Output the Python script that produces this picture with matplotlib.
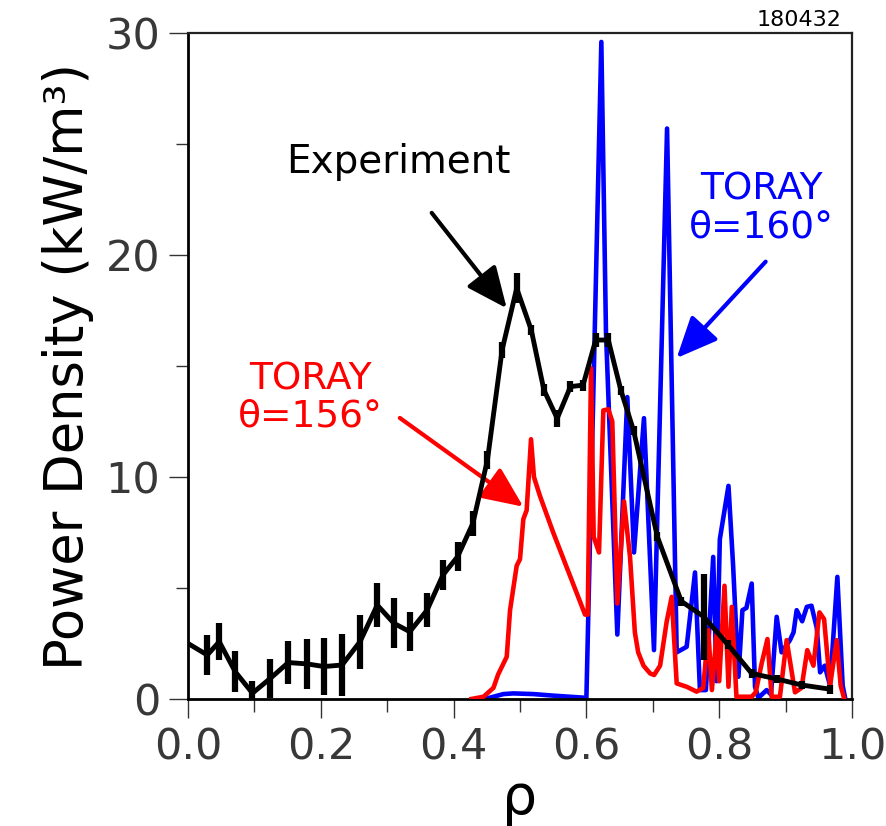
import matplotlib
matplotlib.use("Agg")
import matplotlib.pyplot as plt
from matplotlib.ticker import MultipleLocator

# Experiment (black, with error bars)
exp_rho = [0.0, 0.029, 0.047, 0.071, 0.097, 0.124, 0.151, 0.179, 0.205, 0.232,
           0.259, 0.285, 0.310, 0.334, 0.360, 0.384, 0.406, 0.429, 0.451, 0.473,
           0.495, 0.517, 0.536, 0.556, 0.576, 0.595, 0.614, 0.633, 0.652, 0.671,
           0.707, 0.743, 0.777, 0.813, 0.849, 0.887, 0.924, 0.967]
exp_val = [2.5, 1.98, 2.58, 1.23, 0.26, 0.93, 1.64, 1.58, 1.46, 1.53,
           2.58, 4.23, 3.41, 3.03, 4.0, 5.59, 6.41, 7.91, 10.77, 15.72,
           18.5, 16.62, 13.92, 12.64, 14.07, 14.14, 16.17, 16.17, 13.9, 12.1,
           7.3, 4.4, 3.7, 2.45, 1.15, 0.9, 0.63, 0.44]
exp_err = [0.0, 0.92, 0.82, 0.92, 0.53, 0.88, 0.98, 1.12, 1.27, 1.4,
           1.22, 0.99, 1.13, 0.88, 0.78, 0.67, 0.64, 0.56, 0.41, 0.34,
           0.68, 0.23, 0.25, 0.38, 0.25, 0.25, 0.3, 0.3, 0.2, 0.2,
           0.2, 0.2, 1.95, 0.2, 0.2, 0.2, 0.2, 0.2]

# TORAY theta=160 (blue)
t160_rho = [0.447, 0.46, 0.475, 0.49, 0.52, 0.55, 0.600, 0.6225, 0.6295, 0.6466,
            0.6616, 0.6717, 0.6867, 0.7018, 0.7215, 0.736, 0.751, 0.7636, 0.771, 0.78,
            0.791, 0.796, 0.801, 0.814, 0.821, 0.829, 0.835, 0.841, 0.849, 0.854,
            0.859, 0.8715, 0.878, 0.8866, 0.894, 0.9066, 0.912, 0.9167, 0.925, 0.932,
            0.939, 0.947, 0.952, 0.959, 0.967, 0.978, 0.986, 0.99]
t160_val = [0.0, 0.1, 0.22, 0.25, 0.22, 0.15, 0.05, 29.6, 16.5, 2.9,
            13.6, 6.6, 12.65, 2.2, 25.7, 2.1, 2.35, 5.7, 0.4, 0.4,
            6.4, 0.8, 7.2, 9.6, 6.0, 1.0, 4.0, 4.1, 5.2, 0.55,
            0.05, 0.4, 0.2, 3.7, 2.1, 2.65, 3.0, 4.0, 3.5, 4.15,
            4.2, 3.2, 1.2, 1.5, 0.6, 5.5, 0.6, 0.0]

# TORAY theta=156 (red)
t156_rho = [0.427, 0.445, 0.46, 0.467, 0.48, 0.485, 0.495, 0.5, 0.505, 0.51,
            0.5166, 0.521, 0.53, 0.55, 0.598, 0.602, 0.607, 0.611, 0.619, 0.6255,
            0.633, 0.639, 0.6466, 0.6566, 0.6657, 0.673, 0.678, 0.686, 0.696, 0.702,
            0.711, 0.721, 0.7285, 0.736, 0.751, 0.766, 0.776, 0.7836, 0.789, 0.796,
            0.8, 0.808, 0.814, 0.819, 0.826, 0.849, 0.855, 0.864, 0.8727, 0.879,
            0.8915, 0.9016, 0.9142, 0.924, 0.9327, 0.942, 0.951, 0.958, 0.967, 0.977,
            0.983, 0.988]
t156_val = [0.0, 0.1, 0.5, 1.1, 1.9, 4.0, 6.0, 6.3, 8.1, 8.5,
            11.7, 10.0, 9.15, 7.5, 3.8, 3.8, 14.9, 7.3, 6.6, 13.0,
            13.05, 12.5, 4.3, 8.9, 6.4, 3.0, 2.1, 1.5, 1.15, 1.08,
            1.5, 3.5, 4.6, 0.7, 0.55, 0.33, 0.5, 3.1, 0.4, 2.9,
            0.8, 5.1, 0.55, 4.15, 0.1, 0.1, 0.3, 1.6, 2.7, 0.1,
            0.1, 2.65, 0.3, 0.5, 2.2, 1.5, 3.9, 3.6, 0.6, 2.65,
            0.6, 0.05]

plt.rcParams['font.family'] = ['DejaVu Sans']

fig = plt.figure(figsize=(8.87, 8.26), dpi=100)
ax = fig.add_axes([0.212, 0.1538, 0.7485, 0.8062])

ax.plot(t160_rho, t160_val, color='#0000ff', lw=3.3, zorder=2)
ax.plot(t156_rho, t156_val, color='#ff0000', lw=3.3, zorder=3)
ax.errorbar(exp_rho, exp_val, yerr=exp_err, fmt='-', color='black', lw=3.5,
            elinewidth=4.5, capsize=0, zorder=4)

ax.set_xlim(0, 1.0)
ax.set_ylim(0, 30)
ax.xaxis.set_major_locator(MultipleLocator(0.2))
ax.xaxis.set_minor_locator(MultipleLocator(0.1))
ax.yaxis.set_major_locator(MultipleLocator(10))
ax.yaxis.set_minor_locator(MultipleLocator(5))
ax.xaxis.set_major_formatter(lambda v, pos: f'{v:.1f}')
ax.tick_params(which='major', direction='out', length=14, width=1, color='#333333',
               labelsize=31, labelcolor='#383838', pad=6)
ax.tick_params(which='minor', direction='out', length=9, width=1, color='#333333')
ax.tick_params(top=False, right=False, which='both')

for side in ['left', 'bottom']:
    ax.spines[side].set_linewidth(2)
for side in ['top', 'right']:
    ax.spines[side].set_linewidth(1.6)
    ax.spines[side].set_color('#222222')

ax.set_ylabel('Power Density (kW/m³)', fontsize=38, labelpad=8)
ax.set_xlabel('ρ', fontsize=40, labelpad=2)

# annotations
arrow = '-|>,head_length=0.9,head_width=0.4'
ax.text(0.317, 24.2, 'Experiment', fontsize=28, ha='center', va='center')
ax.annotate('', xy=(0.48, 17.6), xytext=(0.367, 21.9),
            arrowprops=dict(arrowstyle=arrow, mutation_scale=28, lw=3,
                            color='black', shrinkA=0, shrinkB=0))

ax.text(0.184, 13.55, 'TORAY\nθ=156°', fontsize=27, color='#ff0000',
        ha='center', va='center', linespacing=1.05)
ax.annotate('', xy=(0.505, 8.66), xytext=(0.319, 12.66),
            arrowprops=dict(arrowstyle=arrow, mutation_scale=28, lw=3,
                            color='#ff0000', shrinkA=0, shrinkB=0))

ax.text(0.864, 22.1, 'TORAY\nθ=160°', fontsize=27, color='#0000ff',
        ha='center', va='center', linespacing=1.05)
ax.annotate('', xy=(0.736, 15.36), xytext=(0.870, 19.7),
            arrowprops=dict(arrowstyle=arrow, mutation_scale=28, lw=3,
                            color='#0000ff', shrinkA=0, shrinkB=0))

ax.text(0.984, 1.005, '180432', transform=ax.transAxes, fontsize=16,
        ha='right', va='bottom')

fig.savefig('out.png', dpi=100)
